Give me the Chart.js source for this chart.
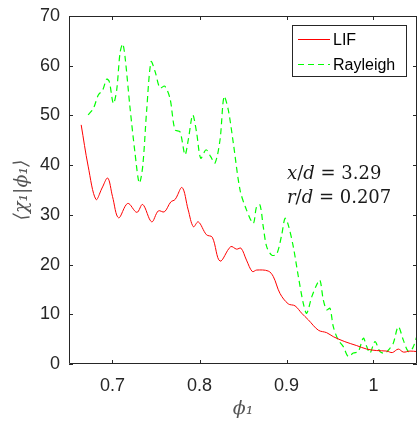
<!DOCTYPE html>
<html>
<head>
<meta charset="utf-8">
<script src="https://cdn.jsdelivr.net/npm/chart.js@4/dist/chart.umd.min.js"></script>
<style>
  html, body { margin: 0; padding: 0; background: #ffffff; }
  #wrap { width: 420px; height: 424px; }
</style>
</head>
<body>
<div id="wrap"><canvas id="c" width="420" height="424"></canvas></div>
<script>
// ---- Data ----
const lifPhi = [0.664,0.672,0.681,0.688,0.6945,0.700,0.707,0.7175,0.728,0.7347,0.745,0.7527,0.7596,0.767,0.772,0.780,0.787,0.793,0.7986,0.808,0.8147,0.8236,0.8359,0.8427,0.8477,0.854,0.8607,0.8657,0.879,0.8848,0.8925,0.902,0.9098,0.9175,0.925,0.9366,0.9462,0.9538,0.967,0.9807,0.9922,1.0037,1.0152,1.0216,1.0285,1.0343,1.042,1.0497];
const lifVal = [48.1,39.8,33.1,35.4,37.4,33.7,29.4,32.3,30.5,32.1,28.6,30.8,30.6,32.6,33.1,35.5,31.0,27.6,28.6,26.0,25.5,20.7,23.6,23.1,23.3,20.9,18.6,18.9,18.7,17.6,14.2,12.1,11.7,10.2,8.9,6.8,6.3,5.5,4.5,3.7,3.0,2.7,2.6,2.3,3.0,2.4,2.6,2.5];

const rayPhi = [0.672,0.678,0.6837,0.6887,0.6933,0.6963,0.701,0.7048,0.7086,0.7117,0.7144,0.720,0.7259,0.7308,0.7347,0.7393,0.7443,0.749,0.7546,0.760,0.7661,0.7718,0.7776,0.7833,0.7871,0.7922,0.7968,0.8014,0.8075,0.8129,0.8178,0.8236,0.8282,0.8331,0.8389,0.8466,0.854,0.8618,0.8657,0.8695,0.8733,0.8772,0.883,0.8887,0.8945,0.8983,0.902,0.9078,0.9136,0.9193,0.9232,0.929,0.9354,0.9385,0.9423,0.9462,0.95,0.9538,0.9595,0.9653,0.971,0.9768,0.9825,0.9883,0.9922,0.996,1.0017,1.0075,1.0132,1.019,1.0228,1.0285,1.0343,1.04,1.045,1.0497];
const rayVal = [50.1,51.4,54.1,55.1,57.3,56.8,52.4,55.1,62.5,64.4,61.8,51.8,42.4,36.4,39.7,51.1,60.8,58.8,55.5,55.9,53.4,47.1,46.7,42.1,45.1,50.1,46.4,41.4,43.1,41.7,40.4,45.1,53.8,51.1,44.4,35.0,31.0,28.3,31.7,32.0,27.6,23.6,21.9,22.1,26.0,29.3,28.0,23.6,17.6,12.2,10.2,13.5,16.2,16.9,12.9,10.9,11.2,7.5,4.8,3.5,1.5,2.2,2.5,5.2,3.5,2.2,4.5,2.5,2.2,3.2,4.2,7.5,4.8,2.5,3.2,5.5];

const xTicks = [0.7, 0.8, 0.9, 1.0];
const yTicks = [0, 10, 20, 30, 40, 50, 60, 70];
const seriesNames = ['LIF', 'Rayleigh'];
const annotationLines = [
  [['x','i'],['/',''],['d','i'],[' = 3.29','']],
  [['r','i'],['/',''],['d','i'],[' = 0.207','']]
];

const AXIS = '#262626';

const framePlugin = {
  id: 'frame',
  afterDatasetsDraw(chart) {
    const {ctx, chartArea: a, scales} = chart;
    ctx.save();
    ctx.strokeStyle = AXIS;
    ctx.lineWidth = 1;
    ctx.beginPath();
    ctx.rect(a.left + 0.5, a.top + 0.5, a.right - a.left - 1, a.bottom - a.top - 1);
    ctx.stroke();
    const tl = 4;
    ctx.beginPath();
    scales.x.ticks.forEach(t => {
      const px = Math.round(scales.x.getPixelForValue(t.value)) + 0.5;
      ctx.moveTo(px, a.bottom); ctx.lineTo(px, a.bottom - tl);
      ctx.moveTo(px, a.top); ctx.lineTo(px, a.top + tl);
    });
    scales.y.ticks.forEach(t => {
      const py = Math.round(scales.y.getPixelForValue(t.value)) + 0.5;
      ctx.moveTo(a.left, py); ctx.lineTo(a.left + tl, py);
      ctx.moveTo(a.right, py); ctx.lineTo(a.right - tl, py);
    });
    ctx.stroke();

    // legend box
    const lx = 292.5, ly = 25.5, lw = 114, lh = 51;
    ctx.fillStyle = '#ffffff';
    ctx.fillRect(lx, ly, lw, lh);
    ctx.strokeStyle = AXIS;
    ctx.strokeRect(lx, ly, lw, lh);
    chart.data.datasets.forEach((ds, i) => {
      const yy = 39.5 + i * 25;
      ctx.strokeStyle = ds.borderColor;
      ctx.lineWidth = ds.borderWidth;
      ctx.setLineDash(ds.borderDash || []);
      ctx.beginPath();
      ctx.moveTo(298, yy); ctx.lineTo(330, yy);
      ctx.stroke();
      ctx.setLineDash([]);
      ctx.fillStyle = '#000000';
      ctx.font = '16px "Liberation Sans", Arial, sans-serif';
      ctx.textBaseline = 'middle';
      ctx.textAlign = 'left';
      ctx.fillText(ds.label, 333, yy + 1);
    });

    // annotation text
    const ys = [174, 198];
    annotationLines.forEach((parts, k) => {
      let x = 287;
      ctx.textBaseline = 'middle';
      ctx.fillStyle = '#1a1a1a';
      parts.forEach(([txt, st]) => {
        ctx.font = (st === 'i' ? 'italic ' : '') + '18px "DejaVu Serif", "Liberation Serif", serif';
        ctx.fillText(txt, x, ys[k]);
        x += ctx.measureText(txt).width;
      });
    });
    ctx.restore();
  }
};

new Chart(document.getElementById('c'), {
  type: 'scatter',
  data: {
    datasets: [
      {
        label: seriesNames[0],
        data: lifPhi.map((v, i) => ({x: v, y: lifVal[i]})),
        showLine: true,
        borderColor: '#ff0000',
        borderWidth: 1,
        pointRadius: 0,
        tension: 0.35,
        fill: false
      },
      {
        label: seriesNames[1],
        data: rayPhi.map((v, i) => ({x: v, y: rayVal[i]})),
        showLine: true,
        borderColor: '#00ff00',
        borderWidth: 1.2,
        borderDash: [6, 4],
        pointRadius: 0,
        tension: 0.3,
        fill: false
      }
    ]
  },
  options: {
    responsive: false,
    animation: false,
    devicePixelRatio: 1,
    layout: { padding: { top: 16, right: 3, bottom: 0, left: 0 } },
    plugins: { legend: { display: false }, tooltip: { enabled: false } },
    scales: {
      x: {
        type: 'linear',
        min: 0.65, max: 1.05,
        afterBuildTicks: s => { s.ticks = xTicks.map(v => ({value: v})); },
        afterFit: s => { s.height = 60; },
        grid: { display: false },
        border: { display: false },
        ticks: {
          padding: 3,
          color: AXIS,
          font: { family: '"Liberation Sans", Arial, sans-serif', size: 18 },
          callback: v => String(Math.round(v * 10) / 10),
          maxRotation: 0
        },
        title: {
          display: true,
          text: 'ϕ₁',
          color: '#555555',
          padding: { top: 0, bottom: 4 },
          font: { family: '"DejaVu Serif", "Liberation Serif", serif', size: 19, style: 'italic' }
        }
      },
      y: {
        type: 'linear',
        min: 0, max: 70,
        afterBuildTicks: s => { s.ticks = yTicks.map(v => ({value: v})); },
        afterFit: s => { s.width = 69; },
        grid: { display: false },
        border: { display: false },
        ticks: {
          padding: 1,
          color: AXIS,
          font: { family: '"Liberation Sans", Arial, sans-serif', size: 18 }
        },
        title: {
          display: true,
          text: '⟨χ₁|ϕ₁⟩',
          color: '#555555',
          padding: { top: 11, bottom: 0 },
          font: { family: '"DejaVu Serif", "Liberation Serif", serif', size: 19, style: 'italic' }
        }
      }
    }
  },
  plugins: [framePlugin]
});
</script>
</body>
</html>
